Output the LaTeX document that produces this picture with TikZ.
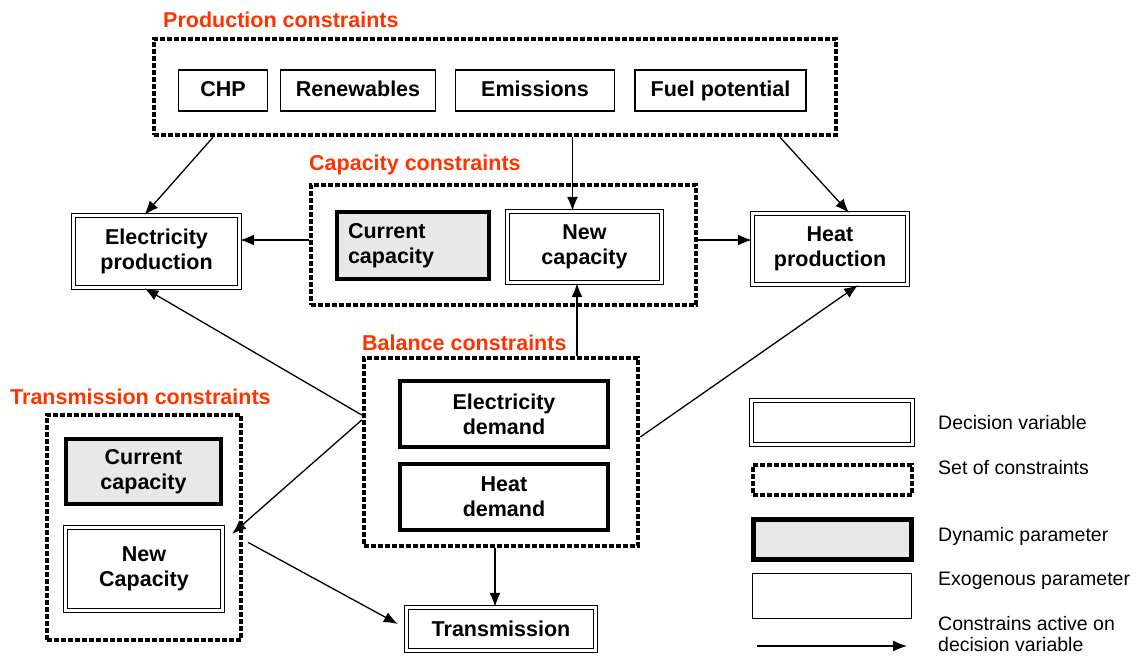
\documentclass[tikz,border=0pt]{standalone}
\usepackage{fontspec}
\setmainfont{Liberation Sans}
\usetikzlibrary{positioning}
\usetikzlibrary{calc}
\usetikzlibrary{arrows.meta}
\definecolor{titlered}{RGB}{255,51,0}
\definecolor{dynfill}{RGB}{232,232,232}

\begin{document}
\begin{tikzpicture}[
    x=1pt, y=-1pt,
    >={Latex[length=14pt,width=11pt]},
    % node styles
    exobox/.style = {
      draw, line width=1.2pt,
      minimum height=41pt,
      text height=15pt, text depth=4pt,
      align=center,
      font=\fontsize{21.5}{25}\selectfont\bfseries
    },
    decbox/.style = {
      draw, double, double distance=2.4pt, line width=1.4pt,
      align=center,
      font=\fontsize{21.5}{25}\selectfont\bfseries
    },
    dynbox/.style = {
      draw, line width=4.5pt, fill=dynfill,
      align=center,
      font=\fontsize{21.5}{25}\selectfont\bfseries
    },
    parbox/.style = {
      draw, line width=4.5pt, fill=white,
      align=center,
      font=\fontsize{21.5}{25}\selectfont\bfseries
    },
    consbox/.style = {
      draw, line width=4.5pt, dash pattern=on 5pt off 2pt
    },
    constitle/.style = {
      anchor=west, inner sep=0pt, text=titlered,
      font=\fontsize{21.5}{25}\selectfont\bfseries
    },
    legtext/.style = {
      anchor=west, inner sep=0pt, align=left,
      font=\fontsize{19.5}{21}\selectfont
    },
    % arrow styles
    arr/.style = {->, line width=1.3pt}
  ]
  \useasboundingbox (0,0) rectangle (1137,656);

  % --- Production constraints
  \node[consbox, minimum width=682pt, minimum height=96pt] (prodcons) at (495,87) {};
  \node[constitle] (prodtitle) at (163,20) {Production constraints};
  \node[exobox, minimum width=89pt]  (chp)   at (223,90.5)   {CHP};
  \node[exobox, minimum width=155pt] (renew) at (358,90.5)   {Renewables};
  \node[exobox, minimum width=159pt] (emis)  at (535,90.5)   {Emissions};
  \node[exobox, minimum width=171pt] (fuel)  at (720.5,90.5) {Fuel potential};

  % --- Capacity constraints
  \node[consbox, minimum width=385pt, minimum height=120pt] (capcons) at (503.5,245) {};
  \node[constitle] (captitle) at (309,165) {Capacity constraints};
  \node[dynbox, text width=130pt, inner xsep=11pt, minimum height=67pt, align=left] (curcap) at (413,245.5) {Current\\capacity};
  \node[decbox, minimum width=154pt, minimum height=71pt] (newcap) at (584.5,247) {New\\capacity};

  % --- Decision variables
  \node[decbox, minimum width=166pt, minimum height=72pt] (elecprod) at (156.5,251.5) {Electricity\\production};
  \node[decbox, minimum width=155pt, minimum height=71pt] (heatprod) at (830,249) {Heat\\production};
  \node[decbox, minimum width=189pt, minimum height=43pt] (trans) at (501,629) {Transmission};

  % --- Balance constraints
  \node[consbox, minimum width=274pt, minimum height=188pt] (balcons) at (501,452) {};
  \node[constitle] (baltitle) at (362,343) {Balance constraints};
  \node[parbox, minimum width=208pt, minimum height=66pt] (elecdem) at (504,414) {Electricity\\demand};
  \node[parbox, minimum width=208pt, minimum height=66pt] (heatdem) at (504,497) {Heat\\demand};

  % --- Transmission constraints
  \node[consbox, minimum width=194pt, minimum height=225pt] (transcons) at (144,527.5) {};
  \node[constitle] (transtitle) at (10,397) {Transmission constraints};
  \node[dynbox, minimum width=155pt, minimum height=65pt] (tcurcap) at (143.5,471.5) {Current\\capacity};
  \node[decbox, minimum width=157pt, minimum height=83pt] (tnewcap) at (144,569) {New\\Capacity};

  % --- Arrows
  \draw[arr] ([xshift=-282pt]prodcons.south) -- ([xshift=-12pt]elecprod.north);
  \path ([xshift=-12pt]newcap.north) coordinate (newcapIn);
  \draw[arr] (prodcons.south -| newcapIn) -- (newcapIn);
  \draw[arr] ([xshift=285pt]prodcons.south) -- ([xshift=19pt]heatprod.north);
  \draw[arr] ([yshift=5pt]capcons.west) -- ([yshift=5pt]capcons.west -| elecprod.east);
  \draw[arr] ([yshift=5pt]capcons.east) -- ([yshift=5pt]capcons.east -| heatprod.west);
  \draw[arr] ([xshift=76pt]balcons.north) -- ([xshift=76pt]balcons.north |- newcap.south);
  \draw[arr] ([yshift=37pt]balcons.west) -- ([xshift=-12pt]elecprod.south);
  \draw[arr] ([yshift=32pt]balcons.west) -- ([xshift=9pt,yshift=-7pt]tnewcap.north east);
  \draw[arr] ([yshift=15pt]balcons.east) -- ([xshift=28pt]heatprod.south);
  \draw[arr] ([xshift=-6pt]balcons.south) -- ([xshift=-6pt]balcons.south |- trans.north);
  \draw[arr] ([xshift=5pt,yshift=-15pt]transcons.east) -- ([xshift=-8pt,yshift=5pt]trans.west);

  % --- Legend
  \node[decbox, minimum width=161pt, minimum height=44pt] (legdec) at (832,422.5) {};
  \node[consbox, minimum width=159pt, minimum height=30pt] (legset) at (832.5,480) {};
  \node[dynbox, minimum width=158pt, minimum height=40pt] (legdyn) at (832.5,539.5) {};
  \node[exobox, minimum width=159pt, minimum height=45pt] (legexo) at (832,596) {};
  \coordinate (legarrA) at (757,646);
  \coordinate (legarrB) at (907,646);
  \draw[arr] (legarrA) -- (legarrB);
  \node[legtext] (legdectxt) at (938,423) {Decision variable};
  \node[legtext] (legsettxt) at (938,468) {Set of constraints};
  \node[legtext] (legdyntxt) at (938,536) {Dynamic parameter};
  \node[legtext] (legexotxt) at (938,581) {Exogenous parameter};
  \node[legtext] (legarrtxt) at (938,634) {Constrains active on\\decision variable};

\end{tikzpicture}
\end{document}
